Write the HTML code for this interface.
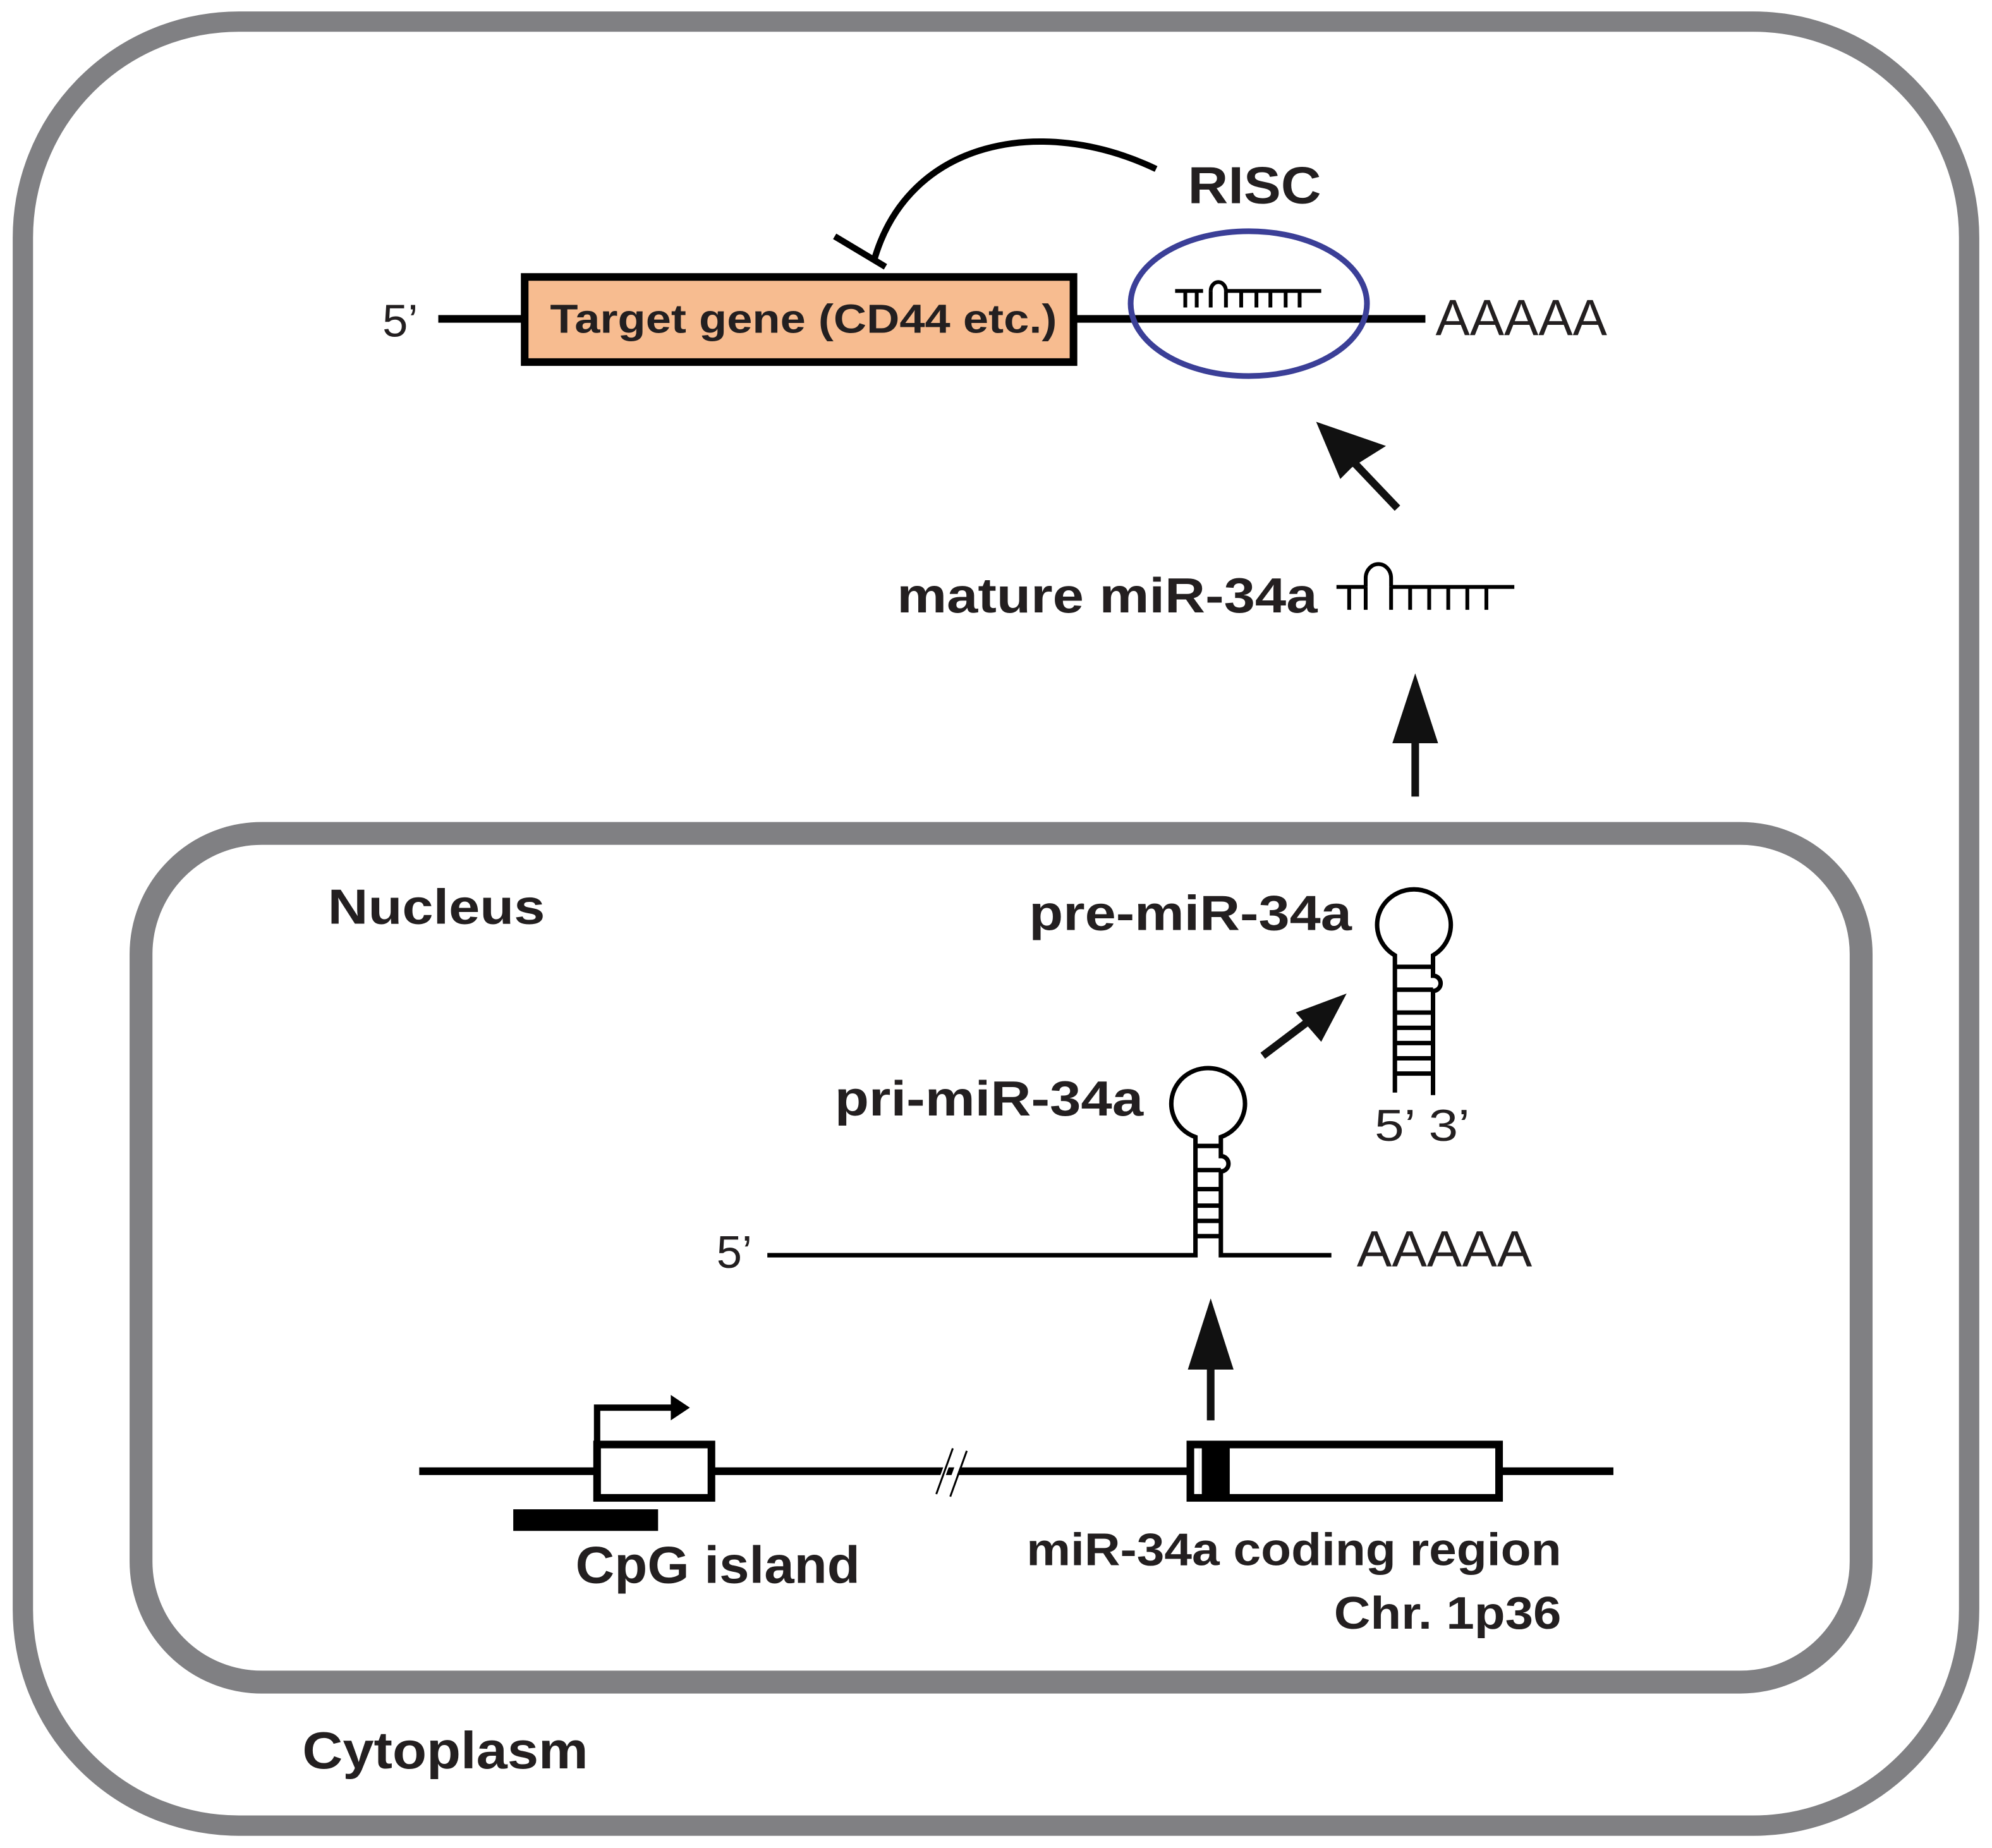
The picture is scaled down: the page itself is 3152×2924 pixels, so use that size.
<!DOCTYPE html>
<html><head><meta charset="utf-8"><style>
html,body{margin:0;padding:0;background:#fff;}
svg{display:block;}
text{font-family:"Liberation Sans",Arial,sans-serif;fill:#231f20;}
.b{font-weight:bold;}
</style></head><body>
<svg width="3152" height="2924" viewBox="0 0 1568 1454.6" xmlns="http://www.w3.org/2000/svg">
<rect width="1568" height="1455" fill="#fff"/>
<rect x="18" y="17" width="1532" height="1420" rx="170" ry="170" fill="none" stroke="#808083" stroke-width="16"/>
<rect x="111" y="656" width="1354" height="668" rx="95" ry="95" fill="none" stroke="#808083" stroke-width="18"/>

<line x1="345" y1="251" x2="1122" y2="251" stroke="#000" stroke-width="6"/>
<rect x="413" y="218" width="432" height="67" fill="#f7bc90" stroke="#000" stroke-width="6"/>
<text x="433" y="262" class="b" font-size="32" textLength="399" lengthAdjust="spacingAndGlyphs">Target gene (CD44 etc.)</text>
<text x="301" y="265" font-size="36">5’</text>
<text x="1130" y="264" font-size="40" textLength="135" lengthAdjust="spacingAndGlyphs">AAAAA</text>
<ellipse cx="983" cy="239" rx="93" ry="57" fill="none" stroke="#3b3f97" stroke-width="4.5"/>
<g stroke="#000" stroke-width="3" fill="none">
<path d="M925,229 H947 M953,229 A6,7 0 0 1 965,229 M965,229 H1040"/>
<path d="M933,229V242 M942,229V242 M953,229V242 M965,229V242 M977,229V242 M989,229V242 M1000,229V242 M1012,229V242 M1023,229V242"/>
</g>
<text x="935" y="160" class="b" font-size="41" textLength="105" lengthAdjust="spacingAndGlyphs">RISC</text>
<path d="M910,133 C820,90 715,110 688,205" fill="none" stroke="#000" stroke-width="5"/>
<line x1="657" y1="186" x2="697" y2="210" stroke="#000" stroke-width="5"/>
<line x1="1100" y1="400" x2="1060" y2="358" stroke="#111" stroke-width="6"/>
<polygon points="1036,332 1091,351 1064,368 1055,377" fill="#111"/>
<text x="706" y="482" class="b" font-size="39" textLength="331" lengthAdjust="spacingAndGlyphs">mature miR-34a</text>
<g stroke="#000" stroke-width="3" fill="none">
<path d="M1052,462 H1075 M1075,462 V455 A10,11 0 0 1 1095,455 V462 M1095,462 H1192"/>
<path d="M1062,462V480 M1075,462V480 M1095,462V480 M1110,462V480 M1125,462V480 M1140,462V480 M1155,462V480 M1170,462V480"/>
</g>
<line x1="1114" y1="627" x2="1114" y2="570" stroke="#111" stroke-width="6"/>
<polygon points="1114,530 1096,585 1132,585" fill="#111"/>

<text x="258" y="727" class="b" font-size="39" textLength="171" lengthAdjust="spacingAndGlyphs">Nucleus</text>
<text x="810" y="732" class="b" font-size="39" textLength="254" lengthAdjust="spacingAndGlyphs">pre-miR-34a</text>
<g stroke="#000" stroke-width="3.5" fill="none">
<path d="M1098,860 V752 A29,28 0 1 1 1128,752 V768 A6,6 0 0 1 1128,780 V862"/>
<path d="M1098,761H1128 M1098,779H1128 M1098,797H1128 M1098,809H1128 M1098,821H1128 M1098,833H1128 M1098,845H1128"/>
</g>
<text x="1082" y="898" font-size="35" textLength="75" lengthAdjust="spacingAndGlyphs">5’ 3’</text>
<line x1="994" y1="831" x2="1035" y2="800" stroke="#111" stroke-width="6"/>
<polygon points="1060,782 1040,820 1020,797" fill="#111"/>

<text x="657" y="878" class="b" font-size="39" textLength="243" lengthAdjust="spacingAndGlyphs">pri-miR-34a</text>
<g stroke="#000" stroke-width="3.5" fill="none">
<path d="M604,988 H941 V895 A29,28 0 1 1 961,895 V910 A6,6 0 0 1 961,922 V988 H1048"/>
<path d="M941,902H961 M941,921H961 M941,936H961 M941,949H961 M941,961H961 M941,973H961"/>
</g>
<text x="564" y="998" font-size="36">5’</text>
<text x="1068" y="997" font-size="40" textLength="138" lengthAdjust="spacingAndGlyphs">AAAAA</text>
<line x1="953" y1="1118" x2="953" y2="1062" stroke="#111" stroke-width="6"/>
<polygon points="953,1022 935,1078 971,1078" fill="#111"/>

<line x1="330" y1="1158" x2="1270" y2="1158" stroke="#000" stroke-width="6"/>
<rect x="470" y="1137" width="90" height="42" fill="#fff" stroke="#000" stroke-width="6"/>
<path d="M470,1137 V1108 H530" fill="none" stroke="#000" stroke-width="5"/>
<polygon points="543,1108 528,1098 528,1118" fill="#000"/>
<rect x="404" y="1188" width="114" height="17" fill="#000"/>
<path d="M737,1176 L750,1140 M745,1178 L758,1142" stroke="#fff" stroke-width="4"/>
<path d="M737,1176 L750,1140 M748,1178 L761,1142" stroke="#000" stroke-width="1.5"/>
<rect x="937" y="1137" width="243" height="42" fill="#fff" stroke="#000" stroke-width="6"/>
<rect x="944" y="1137" width="24" height="42" fill="#000"/>
<line x1="945" y1="1140" x2="945" y2="1176" stroke="#fff" stroke-width="2"/>
<text x="453" y="1246" class="b" font-size="41" textLength="224" lengthAdjust="spacingAndGlyphs">CpG island</text>
<text x="808" y="1232" class="b" font-size="36" textLength="421" lengthAdjust="spacingAndGlyphs">miR-34a coding region</text>
<text x="1050" y="1282" class="b" font-size="36" textLength="179" lengthAdjust="spacingAndGlyphs">Chr. 1p36</text>

<text x="238" y="1392" class="b" font-size="41" textLength="225" lengthAdjust="spacingAndGlyphs">Cytoplasm</text>
</svg>
</body></html>
